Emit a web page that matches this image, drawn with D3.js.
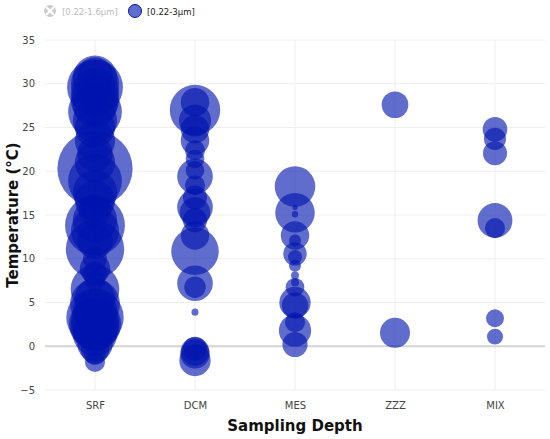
<!DOCTYPE html>
<html>
<head>
<meta charset="utf-8">
<script src="https://cdn.jsdelivr.net/npm/d3@7/dist/d3.min.js"></script>
<style>
  body { margin: 0; background: #fff; }
  text { font-family: Verdana, "DejaVu Sans", sans-serif; }
</style>
</head>
<body>
<script>
// categories on the x axis
const depths = ['SRF', 'DCM', 'MES', 'ZZZ', 'MIX'];
const yTicks = [-5, 0, 5, 10, 15, 20, 25, 30, 35];
const legendLabels = ['[0.22-1.6μm]', '[0.22-3μm]'];

// bubbles per depth: temperature (°C) and relative size
const srfTemp = [31.0, 30.7, 30.0, 29.6, 29.0, 28.1, 27.5, 26.8, 25.8, 25.0, 23.5, 22.0, 21.0, 20.3, 18.9, 17.6, 16.65, 15.5, 14.4, 13.8, 13.2, 12.0, 11.1, 10.0, 8.85, 8.3, 7.5, 6.55, 5.5, 4.85, 4.0, 3.3, 2.8, 2.55, 2.2, 1.8, 1.4, 0.3, -0.4, -0.9, -1.8];
const srfSize = [22, 34, 40, 54, 40, 40, 34, 50, 34, 28, 28, 22, 28, 98, 50, 34, 28, 18, 34, 62, 40, 22, 59, 10, 16, 10, 7, 41, 28, 43, 34, 57, 40, 47, 40, 28, 34, 22, 14, 8, 7];

const dcmTemp = [27.9, 27.0, 25.8, 24.8, 23.5, 22.4, 21.4, 20.1, 19.4, 18.4, 17.0, 15.9, 15.3, 14.4, 12.65, 10.86, 7.2, 6.75, 3.9, -0.3, -0.6, -0.87, -1.63];
const dcmSize = [14, 44, 18, 14, 14, 7, 6, 6, 22, 7, 10, 22, 16, 10, 14, 39, 22, 8, 0.85, 10, 14, 15, 17];

const mesTemp = [18.25, 15.85, 15.25, 15.1, 12.65, 12.1, 10.56, 10.2, 9.2, 8.1, 7.3, 6.75, 5.0, 4.65, 2.75, 1.8, 0.2];
const mesSize = [28.5, 0.5, 27, 0.7, 14, 2.5, 9.5, 3.4, 2.5, 1.1, 1.1, 6, 17, 12, 7, 18, 11];

const zzzTemp = [27.6, 1.53];
const zzzSize = [12.3, 15.6];

const mixTemp = [24.8, 23.7, 22.06, 14.37, 13.5, 3.2, 1.1];
const mixSize = [10.5, 8.4, 10, 21, 7, 5.6, 4.4];

const series = [
  { depth: 'SRF', temp: srfTemp, size: srfSize },
  { depth: 'DCM', temp: dcmTemp, size: dcmSize },
  { depth: 'MES', temp: mesTemp, size: mesSize },
  { depth: 'ZZZ', temp: zzzTemp, size: zzzSize },
  { depth: 'MIX', temp: mixTemp, size: mixSize }
];

const points = [];
series.forEach(s => {
  s.temp.forEach((t, i) => points.push({ depth: s.depth, temp: t, size: s.size[i] }));
});

const W = 550, H = 439;
const margin = { top: 40, right: 5, bottom: 49, left: 45 };
const width = W - margin.left - margin.right;
const height = H - margin.top - margin.bottom;

const svg = d3.select('body').append('svg')
  .attr('width', W)
  .attr('height', H);

const g = svg.append('g')
  .attr('transform', 'translate(' + margin.left + ',' + margin.top + ')');

const x = d3.scalePoint().domain(depths).range([0, width]).padding(0.5);
const y = d3.scaleLinear().domain([-5, 35]).range([height, 0]);
const r = d3.scaleSqrt().domain([0, 100]).range([0, 38]);

// grid lines
g.append('g').selectAll('line')
  .data(yTicks)
  .enter().append('line')
  .attr('x1', 0).attr('x2', width)
  .attr('y1', d => y(d)).attr('y2', d => y(d))
  .style('stroke', '#eeeeee')
  .style('stroke-width', 1);

g.append('g').selectAll('line')
  .data(depths)
  .enter().append('line')
  .attr('x1', d => x(d)).attr('x2', d => x(d))
  .attr('y1', 0).attr('y2', height)
  .style('stroke', '#eeeeee')
  .style('stroke-width', 1);

// zero line
g.append('line')
  .attr('x1', 0).attr('x2', width)
  .attr('y1', y(0)).attr('y2', y(0))
  .style('stroke', '#d4d4d4')
  .style('stroke-width', 2);

// axes (labels only)
const yAxis = g.append('g')
  .call(d3.axisLeft(y).tickValues(yTicks).tickSize(0).tickPadding(10));
yAxis.select('.domain').remove();
yAxis.selectAll('text').style('font-size', '10px').style('fill', '#444');

const xAxis = g.append('g')
  .attr('transform', 'translate(0,' + height + ')')
  .call(d3.axisBottom(x).tickSize(0).tickPadding(12));
xAxis.select('.domain').remove();
xAxis.selectAll('text').style('font-size', '10px').style('fill', '#444');

// bubbles, largest first so small ones stay on top
g.append('g').selectAll('circle')
  .data(points.slice().sort((a, b) => b.size - a.size))
  .enter().append('circle')
  .attr('cx', d => x(d.depth))
  .attr('cy', d => y(d.temp))
  .attr('r', d => r(d.size))
  .style('fill', 'rgb(0,20,175)')
  .style('fill-opacity', 0.62);

// axis titles
svg.append('text')
  .attr('x', margin.left + width / 2)
  .attr('y', 431)
  .attr('text-anchor', 'middle')
  .style('font-size', '15px')
  .style('font-weight', 'bold')
  .style('fill', '#111')
  .text('Sampling Depth');

svg.append('text')
  .attr('transform', 'rotate(-90)')
  .attr('x', -(margin.top + height / 2))
  .attr('y', 18)
  .attr('text-anchor', 'middle')
  .style('font-size', '15px')
  .style('font-weight', 'bold')
  .style('fill', '#111')
  .text('Temperature (°C)');

// legend
const legend = svg.append('g').attr('transform', 'translate(0,11)');

const hidden = legend.append('g').attr('transform', 'translate(50,0)');
hidden.append('circle').attr('r', 6).style('fill', '#cccccc');
hidden.append('path')
  .attr('d', 'M-4,-4L4,4M4,-4L-4,4')
  .style('stroke', '#fff')
  .style('stroke-width', 2);
legend.append('text')
  .attr('x', 62).attr('y', 3.5)
  .style('font-size', '8.5px')
  .style('fill', '#bbbbbb')
  .text(legendLabels[0]);

legend.append('circle')
  .attr('cx', 135).attr('cy', 0).attr('r', 6.5)
  .style('fill', 'rgb(0,20,175)')
  .style('fill-opacity', 0.62)
  .style('stroke', 'rgb(0,20,175)')
  .style('stroke-width', 1);
legend.append('text')
  .attr('x', 147).attr('y', 3.5)
  .style('font-size', '8.5px')
  .style('fill', '#222')
  .text(legendLabels[1]);
</script>
</body>
</html>
